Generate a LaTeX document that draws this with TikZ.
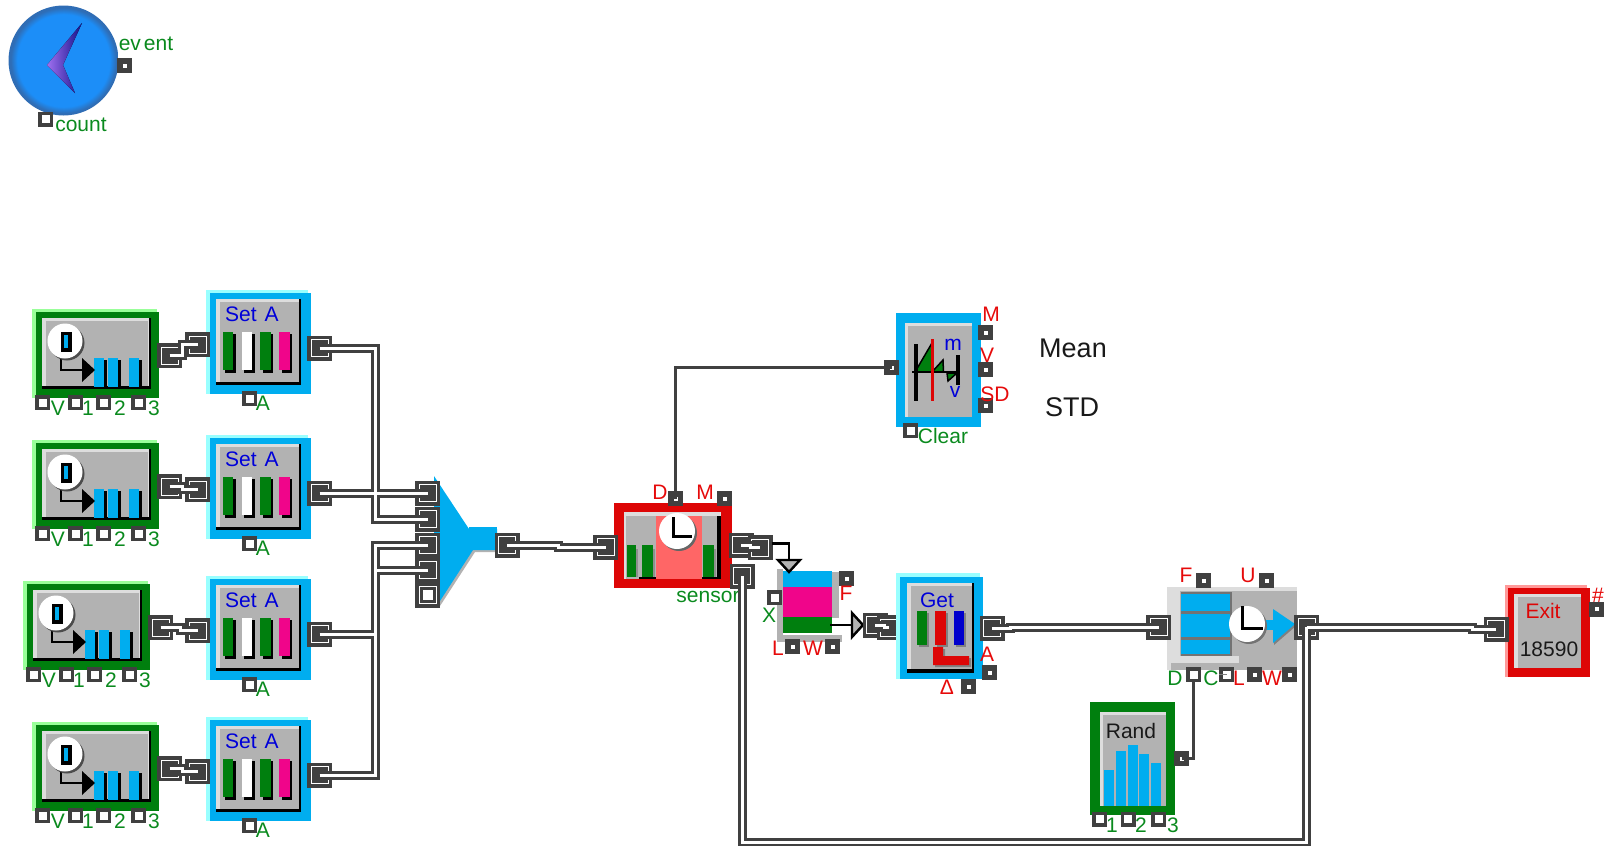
\documentclass[tikz,border=0pt]{standalone}
\usepackage{fontspec}
\setmainfont{Liberation Sans}
\usepackage{xcolor}
\definecolor{portdark}{HTML}{404040}
\definecolor{panelgray}{HTML}{B2B2B2}
\definecolor{panellight}{HTML}{DDDDDD}
\definecolor{itemblue}{HTML}{00ADEF}
\definecolor{itemgreen}{HTML}{007F0E}
\definecolor{itemred}{HTML}{DD0606}
\definecolor{itempink}{HTML}{F0058A}
\definecolor{softred}{HTML}{FF6666}
\definecolor{edgecyan}{HTML}{99FFFF}
\definecolor{edgegreen}{HTML}{99FF99}
\definecolor{edgered}{HTML}{FF9999}
\definecolor{labelgreen}{HTML}{0A8A1E}
\definecolor{labelred}{HTML}{E60A0A}
\definecolor{genblue}{HTML}{1C8EF8}
\definecolor{genedge}{HTML}{2F6DB5}
\definecolor{genspot}{HTML}{A070F0}
\definecolor{gennavy}{HTML}{10108A}
\pgfdeclareradialshading{genball}{\pgfpoint{0bp}{0bp}}{color(0bp)=(genblue); color(21bp)=(genblue); color(24bp)=(genedge); color(25bp)=(genedge); color(50bp)=(genedge)}
\tikzstyle{lab} = [inner sep=0pt, font=\fontsize{21}{21}\selectfont]
\tikzstyle{glab} = [lab, text=labelgreen]
\tikzstyle{rlab} = [lab, text=labelred]
\tikzstyle{blab} = [lab, text=blue!85!black]
\tikzstyle{klab} = [lab, text=black!90]
\tikzstyle{portin} = [draw=portdark, fill=white, line width=3.5pt, minimum size=11.5pt, inner sep=0pt]
\tikzstyle{portout} = [draw=portdark, fill=white, line width=5.5pt, minimum size=9.5pt, inner sep=0pt]
\tikzstyle{itemport} = [fill=portdark, minimum size=25pt, inner sep=0pt, path picture={\draw[white, line width=1pt] (path picture bounding box.center) ++(-8.5pt,-8.5pt) rectangle ++(17pt,17pt);}]
\tikzstyle{itemfree} = [fill=portdark, minimum size=25pt, inner sep=0pt, path picture={\draw[white, line width=1pt] (path picture bounding box.center) ++(-8.5pt,-8.5pt) rectangle ++(17pt,17pt); \fill[white] (path picture bounding box.center) ++(-5pt,-5pt) rectangle ++(10pt,10pt);}]
\tikzstyle{itemwire} = [draw=portdark, line width=3pt, double=white, double distance=3pt]
\tikzstyle{valwire} = [draw=portdark, line width=3pt]
\tikzstyle{sigwire} = [draw=black, line width=2.4pt]
\tikzstyle{tri} = [draw=black, fill=panelgray, line width=2.4pt, line join=miter]
\tikzstyle{hand} = [draw=black, line width=2.4pt]

\begin{document}
\begin{tikzpicture}[x=1pt, y=-1pt]
    \useasboundingbox (0,0) rectangle (1604,846);

    % Event generator
    \shade[shading=genball] (63.5,60.5) circle (55);
    \fill[left color=genspot, right color=gennavy] (82,23) -- (47,65) -- (75,93) -- (63,65) -- cycle;
    \node[portout] (gevent) at (124.5,65.5) {};
    \node[portin] (gcount) at (45.5,119) {};
    \node[glab] (geventlab) at (146,44) {\spaceskip=3pt ev ent};
    \node[glab] (gcountlab) at (81,125) {count};

    % Create blocks
    \foreach \i/\dx/\dy in {1/0/0, 2/0/131, 3/-9/272, 4/0/413} {
    \begin{scope}[shift={(\dx,\dy)}]
        \fill[edgegreen] (32,309) rectangle (157,398);
        \fill[itemgreen] (36,312) rectangle (159,398);
        \fill[black] (42,318) rectangle (151,389);
        \fill[panellight] (42,318) rectangle (149,386);
        \fill[panelgray] (46,321) rectangle (148,386);
        \foreach \bx in {94,108,129} {
            \fill[black] (\bx+3,360) rectangle (\bx+13,387);
            \fill[itemblue] (\bx,358) rectangle (\bx+10,387);
        }
        \draw[sigwire] (61,358) |- (84,370);
        \fill[black] (82,358) -- (95,370) -- (82,382) -- cycle;
        \fill[black!70] (67,343) circle (17.5);
        \fill[white] (65,341) circle (17.5);
        \fill[black] (61,332) rectangle (72,352);
        \fill[itemblue] (64,335) rectangle (68,348);
        \node[itemport] (c\i-out) at (169.5,355.5) {};
        \foreach \p/\px/\lx/\t in {v/42.5/58/V, a/75.5/88/1, b/103.5/120/2, c/138.5/154/3} {
            \node[portin] (c\i-\p) at (\px,402.5) {};
            \node[glab] (c\i-\p lab) at (\lx,408) {\t};
        }
    \end{scope}
    }

    % Set blocks
    \foreach \i/\dy in {1/0, 2/145, 3/286, 4/427} {
    \begin{scope}[shift={(0,\dy)}]
        \fill[edgecyan] (206,290) rectangle (308,394);
        \fill[itemblue] (210,293) rectangle (311,394);
        \fill[black] (216,299) rectangle (301,385);
        \fill[panellight] (216,299) rectangle (299,382);
        \fill[panelgray] (220,302) rectangle (299,382);
        \foreach \bx/\bc in {222.7/itemgreen, 241.7/white, 260/itemgreen, 279/itempink} {
            \fill[black] (\bx+2.5,334) rectangle (\bx+13,372.5);
            \fill[\bc] (\bx,332) rectangle (\bx+10.5,370);
        }
        \node[blab] (s\i-name) at (252,314) {\spaceskip=8pt Set A};
        \node[itemport] (s\i-in) at (197.5,344.5) {};
        \node[itemport] (s\i-out) at (319.5,348) {};
        \node[portin] (s\i-a) at (249.5,398.5) {};
        \node[glab] (s\i-alab) at (263,403) {A};
    \end{scope}
    }

    % Funnel
    \fill[panelgray] (440,606) -- (475,552) -- (497,552) -- (497,549) -- (472,549) -- (438,600) -- cycle;
    \fill[cyan] (469,527) rectangle (497,531);
    \fill[itemblue] (434,476) -- (469,529) -- (497,529) -- (497,550) -- (473,550) -- (440,601) -- (434,606) -- cycle;
    \node[itemport] (f1) at (427.5,493) {};
    \node[itemport] (f2) at (427.5,519) {};
    \node[itemport] (f3) at (427.5,545) {};
    \node[itemport] (f4) at (427.5,570) {};
    \node[itemfree] (f5) at (427.5,595) {};
    \node[itemport] (fout) at (507,545) {};
    \coordinate (busx) at (375,0);

    % Sensor queue
    \fill[itemred] (614,503) rectangle (732,588);
    \fill[panellight] (624,512) rectangle (721,579);
    \fill[panelgray] (626,516) rectangle (717,579);
    \fill[black] (717,516) rectangle (721,579);
    \fill[softred] (656,516) rectangle (702,579);
    \foreach \bx/\bw in {627/9, 642/11, 703/11} {
        \fill[panelgray!80!black] (\bx+\bw,549) rectangle (\bx+\bw+2,577);
        \fill[itemgreen] (\bx,545) rectangle (\bx+\bw,577);
    }
    \fill[black] (639,577) rectangle (656,579);
    \fill[black] (702,577) rectangle (717,579);
    \fill[black!60] (679,533) circle (18);
    \fill[white] (677,531) circle (18);
    \draw[hand] (673.5,517) |- (692,536.5);
    \node[portout] (qd) at (675.5,498.5) {};
    \node[portout] (qm) at (724.5,498.5) {};
    \node[rlab] (qdlab) at (660,492) {D};
    \node[rlab] (qmlab) at (705,492) {M};
    \node[glab] (qname) at (708,597) {sensor};
    \node[itemport] (qin) at (605.5,547) {};
    \node[itemport] (qout) at (741,545) {};
    \node[itemport] (qlink) at (760,547.5) {};
    \node[itemport] (qret) at (742,576) {};

    % Statistic
    \fill[itemblue] (896,313) rectangle (981,427);
    \fill[panellight] (905,323) rectangle (972,417);
    \fill[panelgray] (908,326) rectangle (972,417);
    \draw[black, fill=itemgreen, line width=1.5pt] (915,372) -- (932,343) -- (932,372) -- cycle;
    \draw[black, fill=itemgreen, line width=1.5pt] (932,372) -- (943,360) -- (943.5,372) -- cycle;
    \draw[black, fill=itemgreen, line width=1.5pt] (947,373) -- (957,373) -- (948,381) -- cycle;
    \fill[black] (914,344) rectangle (918,401);
    \fill[black] (956,355) rectangle (960,385);
    \fill[black] (912,371) rectangle (960,373);
    \fill[itemred] (930.5,339) rectangle (933.5,401);
    \node[blab] (statm) at (953,345) {m};
    \node[blab] (statv) at (955,392) {v};
    \node[portout] (statmean) at (985.5,332.5) {};
    \node[portout] (statvar) at (985.5,369.5) {};
    \node[portout] (statsd) at (985.5,405.5) {};
    \node[portin] (statclear) at (910.5,430.5) {};
    \node[portout] (statin) at (891.5,367.5) {};
    \node[rlab] (statmeanlab) at (991,314) {M};
    \node[rlab] (statvarlab) at (987,355) {V};
    \node[rlab] (statsdlab) at (995,394) {SD};
    \node[glab] (statclearlab) at (943,436) {Clear};
    \node[klab, font=\fontsize{27}{27}\selectfont] (meanlab) at (1073,348) {Mean};
    \node[klab, font=\fontsize{27}{27}\selectfont] (stdlab) at (1072,407) {STD};

    % Hold
    \fill[panelgray] (777,569) rectangle (783,642);
    \fill[panelgray] (777,635) rectangle (842,642);
    \fill[panelgray] (832,572) rectangle (839,618);
    \fill[itemblue] (783,571) rectangle (832,587);
    \fill[itempink] (783,587) rectangle (832,617);
    \fill[itemgreen] (783,617) rectangle (832,633);
    \coordinate (holdtop) at (789,560);
    \coordinate (qtap) at (772,543.5);
    \coordinate (holdtap) at (830,625);
    \coordinate (holdtip) at (852,625);
    \draw[sigwire] (qtap) -| (holdtop);
    \draw[tri] (778,560) -- (800,560) -- (789,572) -- cycle;
    \draw[sigwire] (holdtap) -- (holdtip);
    \draw[tri] (852,613) -- (863,625) -- (852,637) -- cycle;
    \node[portout] (holdf) at (846.5,578.5) {};
    \node[portin] (holdx) at (774.5,597.5) {};
    \node[portout] (holdl) at (792.5,646.5) {};
    \node[portout] (holdw) at (832.5,646.5) {};
    \node[rlab] (holdflab) at (846,593) {F};
    \node[glab] (holdxlab) at (769,615) {X};
    \node[rlab] (holdllab) at (778,648) {L};
    \node[rlab] (holdwlab) at (813,648) {W};
    \node[itemport] (holdout) at (875,625) {};
    \node[itemport] (gin) at (889,627.5) {};

    % Get
    \fill[edgecyan] (896,573) rectangle (980,679);
    \fill[itemblue] (900,577) rectangle (983,679);
    \fill[black] (907,583) rectangle (974,673);
    \fill[panellight] (907,583) rectangle (972,669);
    \fill[panelgray] (911,586) rectangle (972,669);
    \foreach \bx/\bw/\bc in {917/10/itemgreen, 935/11/itemred, 954/10/blue!80!black} {
        \fill[black!50] (\bx+2,613) rectangle (\bx+\bw+2,647);
        \fill[\bc] (\bx,611) rectangle (\bx+\bw,645);
    }
    \fill[black!50] (935,649) -- (945,649) -- (945,658) -- (971,658) -- (971,667) -- (935,667) -- cycle;
    \fill[itemred] (933,647) -- (943,647) -- (943,656) -- (969,656) -- (969,665) -- (933,665) -- cycle;
    \node[blab] (getname) at (937,600) {Get};
    \node[itemport] (gout) at (992,628) {};
    \node[portout] (geta) at (989.5,672.5) {};
    \node[portout] (getd) at (968.5,686.5) {};
    \node[rlab] (getalab) at (987,654) {A};
    \node[rlab] (getdlab) at (947,687) {Δ};

    % Shutdown
    \fill[panellight] (1167,587) rectangle (1297,670);
    \fill[panelgray] (1171,591) rectangle (1297,670);
    \fill[panellight] (1171,591) rectangle (1180,663);
    \fill[panellight] (1171,656) rectangle (1239,663);
    \fill[black!55] (1181,592) rectangle (1232,656);
    \fill[itemblue] (1181,594) rectangle (1230,611);
    \fill[itemblue] (1181,614) rectangle (1230,637);
    \fill[itemblue] (1181,640) rectangle (1230,654);
    \fill[itemblue] (1263,620) rectangle (1274,630);
    \fill[black!50] (1274,611) -- (1296,626) -- (1274,645) -- cycle;
    \fill[itemblue] (1273,609) -- (1295,624) -- (1273,643) -- cycle;
    \fill[black!55] (1249,626) circle (18);
    \fill[white] (1247,624) circle (18);
    \draw[hand] (1242.5,606) |- (1263,628.5);
    \node[itemport] (hin) at (1158.5,627) {};
    \node[itemport] (hout) at (1306.5,627) {};
    \node[portout] (hf) at (1203.5,580.5) {};
    \node[portout] (hu) at (1266.5,580.5) {};
    \node[portin] (hd) at (1193.5,674.5) {};
    \node[portin] (hc) at (1226.5,674.5) {};
    \node[portout] (hl) at (1254.5,674.5) {};
    \node[portout] (hw) at (1289.5,674.5) {};
    \draw[black!50, line width=1pt] (hc.center) -- (hc.west);
    \node[rlab] (hflab) at (1186,575) {F};
    \node[rlab] (hulab) at (1248,575) {U};
    \node[glab] (hdlab) at (1175,678) {D};
    \node[glab] (hclab) at (1211,678) {C};
    \node[rlab] (hllab) at (1239,678) {L};
    \node[rlab] (hwlab) at (1272,678) {W};

    % Rand
    \fill[itemgreen] (1090,702) rectangle (1175,815);
    \fill[panellight] (1100,712) rectangle (1166,806);
    \fill[panelgray] (1103,715) rectangle (1166,806);
    \foreach \bx/\by in {1104/770, 1116/751, 1128/745, 1139/754, 1151/763} {
        \fill[itemblue] (\bx,\by) rectangle (\bx+10,806);
    }
    \node[klab] (randname) at (1131,731) {Rand};
    \node[portout] (rout) at (1181.5,758.5) {};
    \foreach \p/\px/\lx/\t in {a/1099.5/1112/1, b/1128/1141/2, c/1158.5/1173/3} {
        \node[portin] (r\p) at (\px,819) {};
        \node[glab] (r\p lab) at (\lx,825) {\t};
    }

    % Exit
    \fill[edgered] (1505,585) rectangle (1587,677);
    \fill[itemred] (1508,588) rectangle (1590,677);
    \fill[panellight] (1514,594) rectangle (1581,668);
    \fill[panelgray] (1518,597) rectangle (1581,668);
    \node[text=itemred, lab] (exitname) at (1543,611) {Exit};
    \node[klab] (exitcount) at (1549,649) {18590};
    \node[itemport] (xin) at (1496,629) {};
    \node[portout] (xnum) at (1596.5,609) {};
    \node[rlab] (xnumlab) at (1598,595) {\#};

    % Item wires
    \foreach \i/\j in {1/13, 2/13, 3/20, 4/13} {
        \draw[itemwire] (c\i-out.center) -- ++(\j,0) |- (s\i-in.center);
    }
    \draw[itemwire] (s1-out.center) -- (s1-out.center -| busx) -- (busx |- f2.center) -- (f2.center)
        (s2-out.center) -- (f1.center)
        (s3-out.center) -- (s3-out.center -| busx) -- (busx |- f4.center) -- (f4.center)
        (s4-out.center) -- (s4-out.center -| busx) -- (busx |- f3.center) -- (f3.center);
    \draw[itemwire] (fout.center) -- ++(51,0) |- (qin.center);
    \draw[itemwire] (qout.center) -- ++(9,0) |- (qlink.center);
    \draw[itemwire] (holdout.center) -- ++(9,0) |- (gin.center);
    \draw[itemwire] (gout.center) -- ++(18,0) |- (hin.center);
    \coordinate (loopbot) at (0,842);
    \draw[itemwire] (hout.center) -- ++(166,0) |- (xin.center)
        (hout.center) -- (hout.center |- loopbot) -- (qret.center |- loopbot) -- (qret.center);

    % Value wires
    \draw[valwire] (qd.center) |- (statin.center);
    \draw[valwire] (rout.center) -| (hd.south);
\end{tikzpicture}
\end{document}
